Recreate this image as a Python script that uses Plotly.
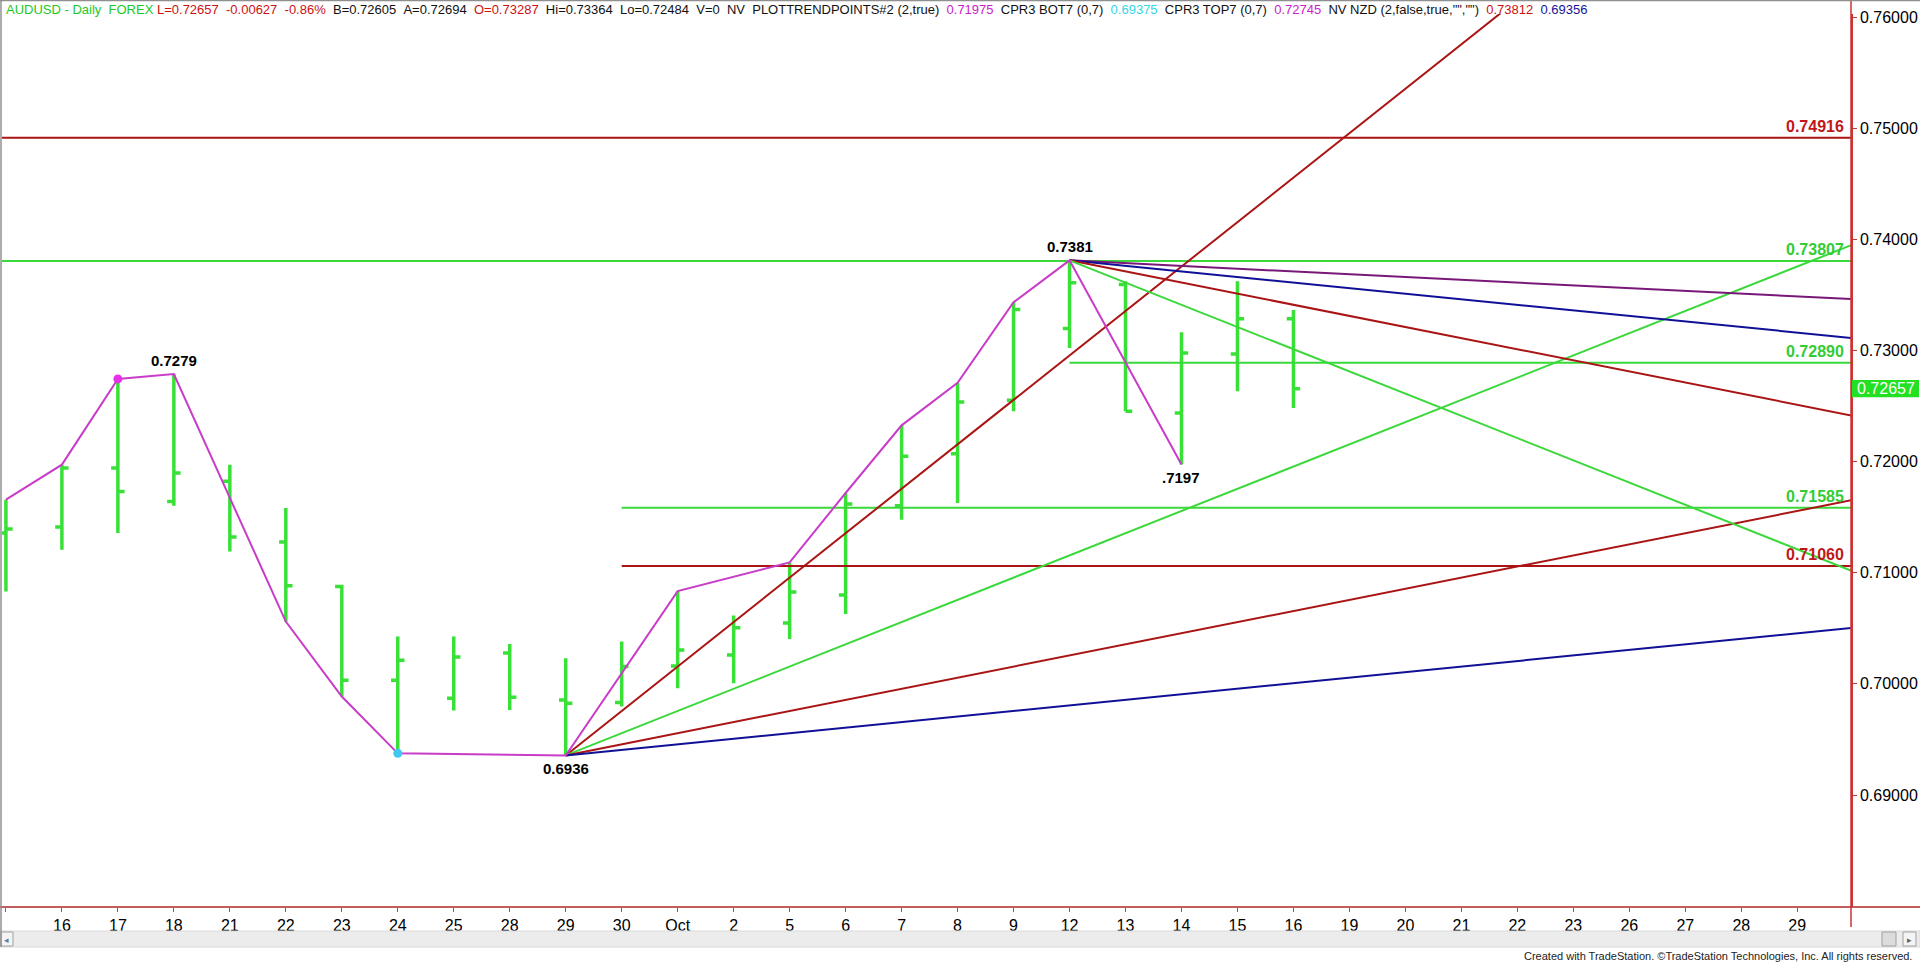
import plotly.graph_objects as go

# ---------------- data ----------------
sessions = ["Sep 15", "Sep 16", "Sep 17", "Sep 18", "Sep 21", "Sep 22", "Sep 23", "Sep 24",
            "Sep 25", "Sep 28", "Sep 29", "Sep 30", "Oct 1", "Oct 2", "Oct 5", "Oct 6",
            "Oct 7", "Oct 8", "Oct 9", "Oct 12", "Oct 13", "Oct 14", "Oct 15", "Oct 16",
            "Oct 19", "Oct 20", "Oct 21", "Oct 22", "Oct 23", "Oct 26", "Oct 27", "Oct 28",
            "Oct 29", "Oct 30"]
tick_labels = ["", "16", "17", "18", "21", "22", "23", "24", "25", "28", "29", "30", "Oct", "2",
               "5", "6", "7", "8", "9", "12", "13", "14", "15", "16", "19", "20", "21", "22",
               "23", "26", "27", "28", "29", ""]

bar_dates = sessions[:24]
opens = [0.71358, 0.71412, 0.71943, 0.71642, 0.71823, 0.71277, 0.70877, 0.70033, 0.69871, 0.70279,
         0.69856, 0.69832, 0.70162, 0.70259, 0.70547, 0.70799, 0.71604, 0.72072, 0.72552, 0.73198,
         0.73595, 0.72439, 0.72970, 0.73287]
highs = [0.71658, 0.71973, 0.72745, 0.72788, 0.71973, 0.71583, 0.70892, 0.70426, 0.70426, 0.70360,
         0.70231, 0.70381, 0.70835, 0.70615, 0.71093, 0.71718, 0.72327, 0.72709, 0.73435, 0.73812,
         0.73624, 0.73165, 0.73624, 0.73364]
lows = [0.70832, 0.71207, 0.71358, 0.71604, 0.71192, 0.70561, 0.69886, 0.69375, 0.69760, 0.69766,
        0.69356, 0.69796, 0.69961, 0.70006, 0.70403, 0.70628, 0.71477, 0.71628, 0.72453, 0.73024,
        0.72453, 0.71975, 0.72633, 0.72484]
closes = [0.71394, 0.71943, 0.71732, 0.71898, 0.71322, 0.70883, 0.70033, 0.70213, 0.70243, 0.69880,
          0.69826, 0.70156, 0.70306, 0.70505, 0.70826, 0.71619, 0.72048, 0.72538, 0.73369, 0.73610,
          0.72453, 0.72979, 0.73286, 0.72657]

# swing (trend point) line
zz_dates = ["Sep 15", "Sep 16", "Sep 17", "Sep 18", "Sep 22", "Sep 23", "Sep 24", "Sep 29",
            "Oct 1", "Oct 5", "Oct 6", "Oct 7", "Oct 8", "Oct 9", "Oct 12", "Oct 14"]
zz_prices = [0.71658, 0.71973, 0.72745, 0.72788, 0.70561, 0.69886, 0.69375, 0.69356,
             0.70835, 0.71093, 0.71718, 0.72327, 0.72709, 0.73435, 0.73812, 0.71975]

# fan lines: anchor -> value at "Oct 30"
fan_up_anchor = ("Sep 29", 0.69356)
fan_up_ends = [0.78556, 0.73956, 0.71656, 0.70506]
fan_up_colors = ["#aa1414", "#3ad83a", "#aa1414", "#101096"]
fan_dn_anchor = ("Oct 12", 0.73812)
fan_dn_ends = [0.73462, 0.73112, 0.72412, 0.71012]
fan_dn_colors = ["#781878", "#101096", "#aa1414", "#3ad83a"]

# horizontal levels
levels = [0.74916, 0.73807, 0.72890, 0.71585, 0.71060]
level_from = [None, None, "Oct 12", "Sep 30", "Sep 30"]
level_colors = ["#aa1414", "#3ad83a", "#3ad83a", "#3ad83a", "#aa1414"]
level_label_colors = ["#c01818", "#33cc33", "#33cc33", "#33cc33", "#c01818"]

last_price = 0.72657
price_ticks = [0.69, 0.70, 0.71, 0.72, 0.73, 0.74, 0.75, 0.76]

# ---------------- geometry helpers ----------------
W, H = 1920, 964
ML, MR, MT, MB = 2, 69, 14, 57
PW, PH = W - ML - MR, H - MT - MB
pos = {s: i for i, s in enumerate(sessions)}
def px(x):  # pixel x -> paper
    return (x - ML) / PW
def py(y):  # pixel y -> paper
    return (H - MB - y) / PH

GREEN = "#38e038"
FONT = "Liberation Sans, Arial, sans-serif"

fig = go.Figure()

# horizontal levels
for lv, st, col in zip(levels, level_from, level_colors):
    x0 = -1 if st is None else pos[st]
    fig.add_trace(go.Scatter(x=[x0, pos["Oct 30"]], y=[lv, lv], mode="lines",
                             line=dict(color=col, width=2), hoverinfo="skip", showlegend=False))

# fan lines
for end, col in zip(fan_up_ends, fan_up_colors):
    fig.add_trace(go.Scatter(x=[pos[fan_up_anchor[0]], pos["Oct 30"]], y=[fan_up_anchor[1], end],
                             mode="lines", line=dict(color=col, width=2), hoverinfo="skip",
                             showlegend=False))
for end, col in zip(fan_dn_ends, fan_dn_colors):
    fig.add_trace(go.Scatter(x=[pos[fan_dn_anchor[0]], pos["Oct 30"]], y=[fan_dn_anchor[1], end],
                             mode="lines", line=dict(color=col, width=2), hoverinfo="skip",
                             showlegend=False))

# swing line
fig.add_trace(go.Scatter(x=[pos[d] for d in zz_dates], y=zz_prices, mode="lines",
                         line=dict(color="#c83cc8", width=2), hoverinfo="skip", showlegend=False))

# OHLC bars
fig.add_trace(go.Ohlc(x=[pos[d] for d in bar_dates], open=opens, high=highs, low=lows, close=closes,
                      increasing=dict(line=dict(color=GREEN, width=3.5)),
                      decreasing=dict(line=dict(color=GREEN, width=3.5)),
                      tickwidth=0.12, hoverinfo="skip", showlegend=False))

# swing dots
fig.add_trace(go.Scatter(x=[pos["Sep 17"]], y=[highs[pos["Sep 17"]]], mode="markers",
                         marker=dict(color="#e830e8", size=9), hoverinfo="skip", showlegend=False))
fig.add_trace(go.Scatter(x=[pos["Sep 24"]], y=[lows[pos["Sep 24"]]], mode="markers",
                         marker=dict(color="#40c8f0", size=9), hoverinfo="skip", showlegend=False))

ann = []
# swing labels
swing_labels = [("Sep 18", 0.72788, "0.7279", "bottom"), ("Oct 12", 0.73812, "0.7381", "bottom"),
                ("Sep 29", 0.69356, "0.6936", "top"), ("Oct 14", 0.71975, ".7197", "top")]
for d, p, t, anc in swing_labels:
    ann.append(dict(x=pos[d], y=p, xref="x", yref="y", text="<b>%s</b>" % t, showarrow=False,
                    xanchor="center", yanchor=anc, yshift=3 if anc == "bottom" else -3,
                    font=dict(family=FONT, size=15, color="black")))

# level labels
for lv, col in zip(levels, level_label_colors):
    ann.append(dict(x=px(1846), y=lv, xref="paper", yref="y", text="<b>%.5f</b>" % lv,
                    xanchor="right", yanchor="bottom", yshift=1, showarrow=False,
                    font=dict(family=FONT, size=16, color=col)))

# last price tag
ann.append(dict(x=px(1886), y=last_price, xref="paper", yref="y", text="%.5f" % last_price,
                xanchor="center", yanchor="middle", showarrow=False,
                font=dict(family=FONT, size=16, color="white")))

# header
G, R, K = "#22c822", "#cc1111", "#111111"
nb = "\u00a0"
parts = [
    (G, "AUDUSD - Daily" + nb + nb + "FOREX"),
    (R, nb + "L=0.72657" + nb + nb + "-0.00627" + nb + nb + "-0.86%"),
    (K, nb + nb + "B=0.72605" + nb + nb + "A=0.72694" + nb + nb),
    (R, "O=0.73287"),
    (K, nb + nb + "Hi=0.73364" + nb + nb + "Lo=0.72484" + nb + nb + "V=0" + nb + nb + "NV" + nb + nb +
        "PLOTTRENDPOINTS#2 (2,true)" + nb + nb),
    ("#cc22cc", "0.71975"),
    (K, nb + nb + "CPR3 BOT7 (0,7)" + nb + nb),
    ("#33d6e6", "0.69375"),
    (K, nb + nb + "CPR3 TOP7 (0,7)" + nb + nb),
    ("#cc22cc", "0.72745"),
    (K, nb + nb + 'NV NZD (2,false,true,"","")' + nb + nb),
    (R, "0.73812"),
    ("#141496", nb + nb + "0.69356"),
]
header = "".join('<span style="color:%s">%s</span>' % (c, t) for c, t in parts)
ann.append(dict(x=px(4), y=py(9), xref="paper", yref="paper", text=header, xanchor="left",
                yanchor="middle", showarrow=False, font=dict(family=FONT, size=13, color=K)))

# footer
ann.append(dict(x=px(1914), y=py(956), xref="paper", yref="paper",
                text="Created with TradeStation. \u00a9TradeStation Technologies, Inc. All rights reserved.",
                xanchor="right", yanchor="middle", showarrow=False,
                font=dict(family=FONT, size=11, color="#222222")))
# scrollbar arrows
ann.append(dict(x=px(6.5), y=py(939), xref="paper", yref="paper", text="\u25c2", showarrow=False,
                xanchor="center", yanchor="middle", font=dict(size=9, color="#6080a0")))
ann.append(dict(x=px(1909.5), y=py(939), xref="paper", yref="paper", text="\u25b8", showarrow=False,
                xanchor="center", yanchor="middle", font=dict(size=9, color="#606060")))

shapes = [
    # scrollbar band
    dict(type="rect", xref="paper", yref="paper", x0=px(0), x1=px(1920), y0=py(947), y1=py(931),
         fillcolor="#ececec", line=dict(color="#dadada", width=1), layer="above"),
    dict(type="rect", xref="paper", yref="paper", x0=px(1), x1=px(13), y0=py(946), y1=py(932),
         fillcolor="#f4f4f4", line=dict(color="#a0a0a0", width=1), layer="above"),
    dict(type="rect", xref="paper", yref="paper", x0=px(1882), x1=px(1896), y0=py(946), y1=py(932),
         fillcolor="#dcdcdc", line=dict(color="#a0a0a0", width=1), layer="above"),
    dict(type="rect", xref="paper", yref="paper", x0=px(1903), x1=px(1916), y0=py(946), y1=py(932),
         fillcolor="#f4f4f4", line=dict(color="#a0a0a0", width=1), layer="above"),
    # x axis line across full width
    dict(type="line", xref="paper", yref="paper", x0=px(0), x1=px(1920), y0=py(907), y1=py(907),
         line=dict(color="#b02828", width=1.5), layer="above"),
    # right axis line extended
    dict(type="line", xref="paper", yref="paper", x0=px(1851), x1=px(1851), y0=py(0), y1=py(927),
         line=dict(color="#cc3333", width=1.5), layer="above"),
    # outer frame
    dict(type="line", xref="paper", yref="paper", x0=px(1), x1=px(1), y0=py(0), y1=py(947),
         line=dict(color="#909090", width=1.5), layer="above"),
    dict(type="line", xref="paper", yref="paper", x0=px(0), x1=px(1920), y0=py(0.5), y1=py(0.5),
         line=dict(color="#909090", width=1.5), layer="above"),
    # last-price box
    dict(type="rect", xref="paper", yref="y", x0=px(1852), x1=px(1919),
         y0=last_price - 0.00078, y1=last_price + 0.00078, fillcolor="#22e022",
         line=dict(width=0), layer="above"),
]

fig.update_layout(
    width=W, height=H, autosize=False,
    margin=dict(l=ML, r=MR, t=MT, b=MB, pad=0),
    paper_bgcolor="white", plot_bgcolor="white",
    showlegend=False, annotations=ann, shapes=shapes,
    xaxis=dict(range=[-0.07, 32.96], tickmode="array", tickvals=list(range(len(sessions))),
               ticktext=tick_labels, ticks="outside", ticklen=4, tickcolor="#b05050",
               showline=False, showgrid=False, zeroline=False, rangeslider=dict(visible=False),
               tickfont=dict(family=FONT, size=16, color="black"), fixedrange=True),
    yaxis=dict(side="right", range=[0.67992, 0.76029], tickmode="array", tickvals=price_ticks,
               ticktext=["%.5f" % v for v in price_ticks], ticks="outside", ticklen=4,
               tickcolor="#cc3333", showline=True, linecolor="#cc3333", linewidth=1.5,
               showgrid=False, zeroline=False,
               tickfont=dict(family=FONT, size=16, color="black"), fixedrange=True),
)

fig.write_html("out.html", config={"displayModeBar": False},
               post_script="document.body.style.margin='0px';")
